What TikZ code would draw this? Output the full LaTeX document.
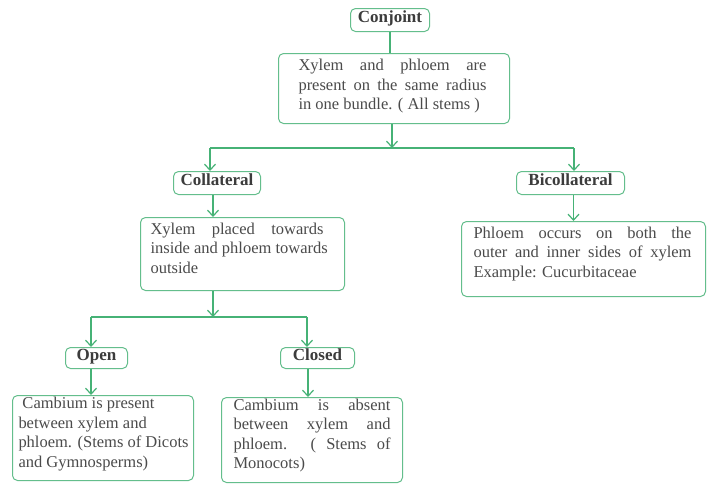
\documentclass[tikz,border=0pt]{standalone}
\usepackage{fontspec}
\setmainfont{Liberation Serif}
\usetikzlibrary{arrows.meta,calc}
\definecolor{lngreen}{RGB}{70,178,118}
\definecolor{bxgreen}{RGB}{100,190,140}
\definecolor{txgray}{RGB}{75,75,75}
\definecolor{ttgray}{RGB}{60,60,60}
\newcommand\jl[2]{\makebox[#1][s]{\spaceskip=.25em plus 1em\relax #2}}
\newcommand\desc[3]{\parbox{#1}{\raggedright\spaceskip=0pt\relax #2\par\vspace{#3}}}
\begin{document}
\begin{tikzpicture}[x=1pt,y=-1pt,
  bx/.style={draw=bxgreen, line width=1pt, rounded corners=5pt, text=txgray,
    font=\fontsize{16.5}{19.5}\selectfont, inner ysep=0pt, anchor=north west},
  ttl/.style={draw=bxgreen, line width=1pt, rounded corners=5pt, text=ttgray,
    font=\bfseries\fontsize{17}{20}\selectfont, inner sep=0pt, text height=13.5pt,
    text depth=9.5pt, anchor=north west},
  ln/.style={draw=lngreen, line width=1.2pt},
  arr/.style={ln, -{Straight Barb[length=6pt,width=11pt]}}]
\useasboundingbox[fill=white] (0,0) rectangle (713,491);

% title boxes
\node[ttl, minimum width=79pt] (conj) at (350,8) {Conjoint};
\node[ttl, minimum width=87pt] (col) at (173,171) {Collateral};
\node[ttl, minimum width=108pt] (bic) at (516,171) {Bicollateral};
\node[ttl, minimum width=62pt, text height=12.5pt, text depth=8.5pt] (opn) at (65,347) {Open};
\node[ttl, minimum width=74pt, text height=12.5pt, text depth=8.5pt] (cls) at (280,347) {Closed};

% description boxes
\node[bx, inner xsep=20pt, minimum width=231pt, minimum height=70pt] (big) at (278,53)
  {\desc{191pt}{\jl{188pt}{Xylem and phloem are}\\ \jl{188pt}{present on the same radius}\\ \mbox{in one bundle. ( All stems )}}{4pt}};
\node[bx, inner xsep=10pt, minimum width=204pt, minimum height=73pt] (cold) at (140,217)
  {\desc{184pt}{\jl{173pt}{Xylem placed towards}\\ \jl{173pt}{inside and phloem towards}\\ outside}{12pt}};
\node[bx, inner xsep=12pt, minimum width=244pt, minimum height=75pt] (bicd) at (461,221)
  {\desc{220pt}{\jl{218pt}{Phloem occurs on both the}\\ \jl{218pt}{outer and inner sides of xylem}\\ \mbox{Example: Cucurbitaceae}}{10pt}};
\node[bx, inner xsep=6pt, minimum width=181pt, minimum height=85pt] (oped) at (12,395)
  {\desc{169pt}{\hspace*{4pt}\mbox{Cambium is present}\\ \mbox{between xylem and}\\ \mbox{phloem. (Stems of Dicots}\\ \mbox{and Gymnosperms)}}{8pt}};
\node[bx, inner xsep=12pt, minimum width=181pt, minimum height=85pt] (clod) at (221,397)
  {\desc{157pt}{\jl{157pt}{Cambium is absent}\\ \jl{157pt}{between xylem and}\\ \jl{157pt}{phloem. ( Stems of}\\ \mbox{Monocots)}}{9pt}};

% junction coordinates
\coordinate (j1) at (392,148);
\coordinate (j1l) at (210,148);
\coordinate (j1r) at (574,148);
\coordinate (j2) at (213,317);
\coordinate (j2l) at (91,317);
\coordinate (j2r) at (307,317);

% connectors
\draw[ln] (conj.south) -- (conj.south |- big.north);
\draw[arr] (big.south -| j1) -- (j1);
\draw[ln] (j1l) -- (j1r);
\draw[arr] (j1l) -- (j1l |- col.north);
\draw[arr] (j1r) -- (j1r |- bic.north);
\draw[arr] ([xshift=-4pt]col.south) -- ([xshift=-4pt]col.south |- cold.north);
\draw[arr] ([xshift=3pt]bic.south) -- ([xshift=3pt]bic.south |- bicd.north);
\draw[arr] (cold.south -| j2) -- (j2);
\draw[ln] (j2l) -- (j2r);
\draw[arr] (j2l) -- (j2l |- opn.north);
\draw[arr] (j2r) -- (j2r |- cls.north);
\draw[arr] (j2l |- opn.south) -- (j2l |- oped.north);
\draw[arr] ([xshift=1pt]j2r |- cls.south) -- ([xshift=1pt]j2r |- clod.north);
\end{tikzpicture}
\end{document}
